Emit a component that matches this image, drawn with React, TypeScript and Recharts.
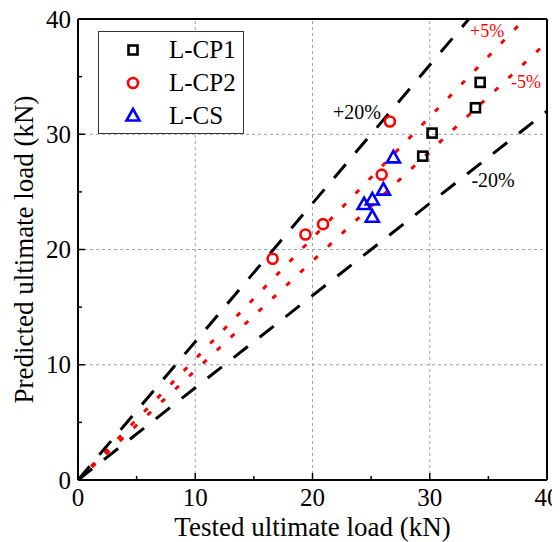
import React from "react";
import {
  ScatterChart,
  Scatter,
  XAxis,
  YAxis,
  ReferenceLine,
  ReferenceDot,
  Legend,
} from "recharts";

// Tested vs predicted ultimate load (kN)
const cp1Tested = [34.3, 33.9, 30.2, 29.4];
const cp1Predicted = [34.5, 32.3, 30.1, 28.1];
const cp2Tested = [16.6, 19.4, 20.9, 25.9, 26.6];
const cp2Predicted = [19.2, 21.3, 22.2, 26.5, 31.1];
const csTested = [26.9, 26.05, 25.1, 24.4, 25.1];
const csPredicted = [27.95, 25.15, 24.3, 23.9, 22.8];

const axisTicks = [0, 5, 10, 15, 20, 25, 30, 35, 40];
const gridValues = [10, 20, 30];

// error bands: ratio of predicted / tested
const bandRatios = [1.2, 0.8];
const bandLabels = ["+20%", "-20%"];
const bandLabelX = [23.8, 35.4];
const bandLabelY = [31.9, 26.0];
const tightRatios = [1.05, 0.95];
const tightLabels = ["+5%", "-5%"];
const tightLabelX = [34.9, 38.2];
const tightLabelY = [39.0, 34.6];

const FONT = "'Liberation Serif', 'Times New Roman', serif";
const MAX = 40;

const toPoints = (xs: number[], ys: number[]) =>
  xs.map((x, i) => ({ x, y: ys[i] }));

const cp1 = toPoints(cp1Tested, cp1Predicted);
const cp2 = toPoints(cp2Tested, cp2Predicted);
const cs = toPoints(csTested, csPredicted);

const segmentFor = (k: number) => [
  { x: 0, y: 0 },
  k > 1 ? { x: MAX / k, y: MAX } : { x: MAX, y: MAX * k },
];

const Square = ({ cx, cy }: any) => (
  <rect x={cx - 4.5} y={cy - 4.5} width={9} height={9} fill="none" stroke="#000" strokeWidth={2.6} />
);
const Circle = ({ cx, cy }: any) => (
  <circle cx={cx} cy={cy} r={5} fill="none" stroke="#ff0000" strokeWidth={2.6} />
);
const Triangle = ({ cx, cy }: any) => (
  <polygon
    points={`${cx},${cy - 7} ${cx + 6.5},${cy + 4.5} ${cx - 6.5},${cy + 4.5}`}
    fill="none"
    stroke="#0000ff"
    strokeWidth={2.6}
  />
);

const XTick = ({ x, y, payload }: any) => {
  const major = payload.value % 10 === 0;
  return (
    <g>
      <line x1={x} x2={x} y1={y} y2={y - (major ? 7 : 4)} stroke="#000" strokeWidth={1.5} />
      {major && (
        <text x={x} y={y + 26} textAnchor="middle" fontSize={25} fontFamily={FONT} fill="#000">
          {payload.value}
        </text>
      )}
    </g>
  );
};

const YTick = ({ x, y, payload }: any) => {
  const major = payload.value % 10 === 0;
  return (
    <g>
      <line x1={x} x2={x + (major ? 7 : 4)} y1={y} y2={y} stroke="#000" strokeWidth={1.5} />
      {major && (
        <text x={x - 7} y={y + 8.5} textAnchor="end" fontSize={25} fontFamily={FONT} fill="#000">
          {payload.value}
        </text>
      )}
    </g>
  );
};

const legendItems = [
  { name: "L-CP1", Icon: Square },
  { name: "L-CP2", Icon: Circle },
  { name: "L-CS", Icon: Triangle },
];

const LegendBox = () => (
  <div
    style={{
      border: "1px solid #333",
      width: 146,
      height: 103,
      background: "#fff",
      fontFamily: FONT,
      fontSize: 25,
      lineHeight: "33px",
      color: "#000",
      paddingTop: 1,
      boxSizing: "border-box",
    }}
  >
    {legendItems.map(({ name, Icon }) => (
      <div key={name} style={{ display: "flex", alignItems: "center", height: 33 }}>
        <svg width={70} height={20} style={{ flex: "none" }}>
          <Icon cx={34} cy={10} />
        </svg>
        <span>{name}</span>
      </div>
    ))}
  </div>
);

const XLabel = ({ viewBox }: any) => (
  <text
    x={viewBox.x + viewBox.width / 2}
    y={viewBox.y + 56}
    textAnchor="middle"
    fontSize={27}
    fontFamily={FONT}
    fill="#000"
  >
    Tested ultimate load (kN)
  </text>
);

const YLabel = ({ viewBox }: any) => {
  const bx = 25;
  const cy = viewBox.y + viewBox.height / 2;
  return (
    <text
      x={bx}
      y={cy}
      textAnchor="middle"
      fontSize={27}
      fontFamily={FONT}
      fill="#000"
      transform={`rotate(-90, ${bx}, ${cy})`}
    >
      Predicted ultimate load (kN)
    </text>
  );
};

export default function App() {
  return (
    <div>
      <style>{`.recharts-surface { overflow: visible; }`}</style>
      <ScatterChart width={552} height={534} margin={{ top: 11, right: 13, bottom: 0, left: 0 }}>
        <XAxis
          type="number"
          dataKey="x"
          domain={[0, MAX]}
          ticks={axisTicks}
          tickSize={0}
          tickMargin={0}
          tick={<XTick />}
          height={62}
          axisLine={{ stroke: "#000", strokeWidth: 2 }}
          allowDataOverflow
          label={XLabel}
        />
        <YAxis
          type="number"
          dataKey="y"
          domain={[0, MAX]}
          ticks={axisTicks}
          tickSize={0}
          tickMargin={0}
          tick={<YTick />}
          width={70}
          axisLine={{ stroke: "#000", strokeWidth: 2 }}
          allowDataOverflow
          label={YLabel}
        />
        {gridValues.map((v) => (
          <ReferenceLine key={`gx${v}`} x={v} stroke="#a0a0a0" strokeDasharray="3 3" />
        ))}
        {gridValues.map((v) => (
          <ReferenceLine key={`gy${v}`} y={v} stroke="#a0a0a0" strokeDasharray="3 3" />
        ))}
        <ReferenceLine y={MAX} stroke="#000" strokeWidth={2} />
        <ReferenceLine x={MAX} stroke="#000" strokeWidth={2} />
        {tightRatios.map((k) => (
          <ReferenceLine
            key={`t${k}`}
            segment={segmentFor(k)}
            stroke="#ff0000"
            strokeWidth={3}
            strokeDasharray="5 14"
          />
        ))}
        {bandRatios.map((k) => (
          <ReferenceLine
            key={`b${k}`}
            segment={segmentFor(k)}
            stroke="#000"
            strokeWidth={3}
            strokeDasharray="18 15"
          />
        ))}
        {bandLabels.map((t, i) => (
          <ReferenceDot
            key={t}
            x={bandLabelX[i]}
            y={bandLabelY[i]}
            r={0}
            fill="none"
            stroke="none"
            label={{ value: t, position: "center", fill: "#000", fontSize: 20, fontFamily: FONT }}
          />
        ))}
        {tightLabels.map((t, i) => (
          <ReferenceDot
            key={t}
            x={tightLabelX[i]}
            y={tightLabelY[i]}
            r={0}
            fill="none"
            stroke="none"
            label={{ value: t, position: "center", fill: "#ff0000", fontSize: 18, fontFamily: FONT }}
          />
        ))}
        <Scatter name="L-CP1" data={cp1} shape={Square} isAnimationActive={false} />
        <Scatter name="L-CP2" data={cp2} shape={Circle} isAnimationActive={false} />
        <Scatter name="L-CS" data={cs} shape={Triangle} isAnimationActive={false} />
        <Legend
          layout="vertical"
          align="center"
          verticalAlign="middle"
          content={LegendBox}
          wrapperStyle={{ top: 23, left: 90, width: 146, height: 103 }}
        />
      </ScatterChart>
    </div>
  );
}
